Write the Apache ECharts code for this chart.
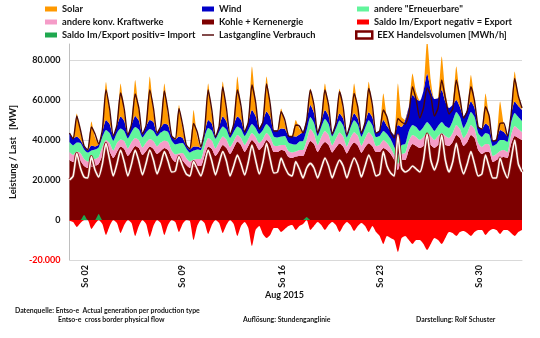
<!DOCTYPE html>
<html>
<head>
<meta charset="utf-8">
<script src="https://cdn.jsdelivr.net/npm/echarts@6/dist/echarts.min.js"></script>
<style>
  html, body { margin: 0; padding: 0; background: #fff; }
  #chart { width: 540px; height: 338px; }
</style>
</head>
<body>
<div id="chart"></div>
<script>
// August 2015, hourly profile sampled at 00, 06, 12 and 18 h of each day (last value: 01.09. 0 h)
const sampleHours = [0, 6, 12, 18];
const dayCount = 31;
const lastHour = 744;

// Kohle + Kernenergie [MW]
const kohle = [
  30000, 29000, 30000, 29500,   27000, 26000, 26500, 27000,   28000, 32000, 35000, 34000,
  31000, 34000, 36700, 35500,   32000, 34500, 37000, 36000,   32500, 34500, 36700, 35500,
  33000, 34500, 36000, 35000,   31000, 29000, 29200, 29500,   27500, 26000, 26700, 27000,
  27000, 32000, 36700, 35500,   32000, 34500, 37500, 36000,   33000, 36000, 39200, 37500,
  34000, 37000, 40000, 38000,   35000, 37000, 40000, 38000,   34000, 34000, 35000, 34500,
  31500, 31000, 31700, 32000,   32000, 36000, 39500, 38000,   34000, 37000, 39000, 37500,
  33800, 36200, 38300, 36800,   33300, 36600, 38700, 37200,   33600, 36400, 38400, 36900,
  34000, 34000, 36000, 35000,   33000, 30000, 25000, 30000,   30000, 35000, 38000, 37000,
  36000, 37000, 38500, 37500,   36000, 37500, 38500, 37500,   37000, 39000, 42500, 41000,
  37000, 39000, 42500, 41000,   35000, 33000, 34000, 34000,   29000, 30000, 31000, 31500,
  31000, 38000, 42000, 41000,
  40000
];
// andere konv. Kraftwerke [MW]
const konv = [
  4000, 3500, 4200, 4000,   3500, 3200, 3800, 3500,   3500, 4500, 5000, 4500,
  3800, 4500, 3500, 4000,   3800, 4500, 4000, 4000,   3800, 4300, 3800, 4000,
  3800, 4200, 3800, 4000,   3800, 3800, 4100, 4000,   3500, 3200, 3500, 3500,
  3500, 4500, 4300, 4200,   3800, 4500, 4200, 4200,   3500, 3500, 3300, 3500,
  3500, 3500, 3500, 3500,   3500, 3500, 3500, 3500,   3300, 3000, 2500, 3000,
  3000, 2800, 2500, 3000,   3000, 4000, 6000, 5000,   3500, 4500, 5500, 5000,
  3500, 4500, 5500, 5000,   3500, 4500, 5200, 5000,   3500, 4500, 5500, 5000,
  3000, 3500, 4000, 3500,   3000, 2500, 3000, 3000,   3500, 4500, 4500, 4500,
  4000, 4500, 5000, 4500,   4000, 4500, 5000, 4500,   4000, 4500, 5000, 4500,
  4000, 4500, 5000, 4500,   3500, 3500, 4000, 3800,   3000, 3000, 3500, 3500,
  3000, 4500, 5000, 4500,
  4000
];
// andere "Erneuerbare" [MW]
const erneuerbar = [
  5000, 4800, 4500, 5000,   4800, 4500, 4500, 4800,   4800, 5000, 5000, 5000,
  4800, 5000, 5500, 5000,   5000, 5000, 5500, 5200,   5000, 5000, 5000, 5000,
  5000, 5000, 5000, 5000,   5000, 5000, 5000, 5000,   4800, 4500, 4500, 4800,
  4500, 5000, 5000, 5000,   4800, 5000, 5000, 5000,   4500, 4500, 4200, 4500,
  4500, 4500, 4500, 4500,   4500, 4500, 4500, 4500,   4500, 4300, 4200, 4500,
  4300, 4200, 3500, 4300,   4500, 5000, 6000, 5500,   4500, 5000, 6000, 5500,
  4500, 5000, 6000, 5500,   4500, 5000, 6000, 5500,   4500, 5000, 6000, 5500,
  4500, 4500, 4500, 4500,   4500, 4000, 4500, 4500,   4500, 5000, 5000, 5000,
  4500, 5000, 5500, 5000,   4500, 5000, 5500, 5000,   5000, 6000, 6500, 6000,
  5000, 6000, 6500, 6000,   5000, 5000, 5500, 5000,   5000, 5000, 5500, 5000,
  5000, 6000, 6500, 6000,
  5500
];
// Wind [MW]
const wind = [
  4500, 3500, 3000, 1500,   1500, 1200, 2500, 1500,   1500, 2500, 5000, 4500,
  2500, 3500, 6000, 5000,   2000, 3500, 5500, 4500,   1500, 3000, 4500, 4500,
  1500, 2500, 3500, 3500,   2000, 2500, 3400, 2500,   1500, 1500, 2000, 1500,
  1000, 2000, 4000, 3500,   1000, 2500, 5000, 4000,   1500, 3500, 5000, 4500,
  2200, 4000, 7000, 6000,   3000, 4500, 6200, 5500,   3000, 3500, 4100, 3500,
  3500, 4000, 4000, 3500,   4500, 5000, 6000, 5000,   2000, 3000, 4500, 4000,
  1500, 2500, 3500, 3500,   1500, 2500, 3500, 3000,   2000, 3000, 4000, 4000,
  2000, 3000, 5500, 4000,   4000, 6000, 15000, 9000,  12000, 12000, 15000, 14000,
  15000, 18000, 24300, 18000,   16000, 14000, 16000, 12000,   10000, 8000, 6000, 5000,
  5700, 5500, 5200, 4500,   3200, 4000, 4800, 4000,   2500, 2500, 5000, 4000,
  3000, 4000, 5700, 5500,
  5500
];
// Solar [MW]
const solar = [
  0, 200, 11500, 4000,   0, 200, 12000, 4500,   0, 300, 19000, 6000,
  0, 300, 16500, 4500,   0, 300, 18000, 5000,   0, 300, 21700, 5500,
  0, 300, 20000, 5000,   0, 200, 15800, 4500,   0, 200, 18300, 5000,
  0, 300, 18300, 5000,   0, 300, 17500, 5000,   0, 300, 20000, 5500,
  0, 300, 21700, 6000,   0, 300, 17500, 5000,   0, 200, 10000, 3000,
  0, 200, 8300, 3000,    0, 300, 8300, 2500,    0, 300, 13300, 4000,
  0, 300, 12300, 4000,   0, 300, 14800, 4500,   0, 300, 15200, 4500,
  0, 200, 13300, 4000,   0, 200, 20800, 5000,   0, 300, 10800, 3500,
  0, 300, 16700, 5000,   0, 300, 16700, 5000,   0, 300, 16700, 5000,
  0, 300, 13300, 4000,   0, 200, 15000, 4500,   0, 200, 14200, 4000,
  0, 300, 15000, 4500,
  0
];
// Saldo Im/Export positiv = Import [MW]
const importSaldo = [
  0, 0, 0, 0,   2500, 0, 0, 0,   3000, 0, 0, 0,
  0, 0, 0, 0,   0, 0, 0, 0,   0, 0, 0, 0,
  0, 0, 0, 0,   0, 0, 0, 0,   0, 0, 0, 0,
  0, 0, 0, 0,   0, 0, 0, 0,   0, 0, 0, 0,
  0, 0, 0, 0,   0, 0, 0, 0,   0, 0, 0, 0,
  0, 0, 0, 0,   0, 1500, 0, 0,   0, 0, 0, 0,
  0, 0, 0, 0,   0, 0, 0, 0,   0, 0, 0, 0,
  0, 0, 0, 0,   0, 0, 0, 0,   0, 0, 0, 0,
  0, 0, 0, 0,   0, 0, 0, 0,   0, 0, 0, 0,
  0, 0, 0, 0,   0, 0, 0, 0,   0, 0, 0, 0,
  0, 0, 0, 0,
  0
];
// Saldo Im/Export negativ = Export [MW]
const exportSaldo = [
  -500, -1000, -3500, -1500,   0, 0, -4500, -2000,   0, -2000, -7500, -3000,
  0, -1500, -6500, -2500,   0, -1500, -8000, -3000,   0, -2000, -8500, -3000,
  0, -1500, -7500, -2500,   0, -1000, -6000, -2000,   0, -500, -10000, -3000,
  0, -1500, -7000, -2500,   0, -1500, -6500, -2500,   0, -2000, -8000, -3000,
  -1000, -4000, -13000, -5000,   -3000, -7000, -9000, -7500,   -4000, -4000, -6000, -4500,
  -3000, -2500, -5000, -3000,   -2000, 0, -5000, -3000,   -1000, -2500, -5000, -2500,
  -1000, -2500, -6000, -3000,   -1000, -2500, -5500, -3000,   -1500, -3000, -6000, -3000,
  -6000, -8000, -12000, -8000,   -9000, -10000, -16000, -9000,   -8000, -10000, -12000, -10000,
  -10000, -12000, -15000, -12000,   -9000, -10000, -12000, -9000,   -6000, -6500, -8000, -6000,
  -5500, -6500, -8000, -6000,   -5000, -5000, -7500, -5500,   -4500, -5000, -7000, -5000,
  -5000, -6500, -8000, -6000,
  -5000
];
// Lastgangline Verbrauch [MW]
const lastgang = [
  43500, 40500, 52000, 45000,   37000, 35000, 46500, 43000,   38000, 45000, 65000, 55500,
  42000, 47500, 63500, 55500,   42500, 48000, 63000, 56000,   43000, 47500, 65000, 56000,
  43500, 47000, 64500, 54500,   42000, 40500, 55800, 47500,   37500, 35500, 48300, 44000,
  36500, 44500, 65000, 55000,   41500, 47000, 66500, 56000,   42500, 48000, 65000, 57000,
  44000, 49000, 67500, 59000,   45500, 49000, 68000, 58000,   44500, 44500, 54200, 50000,
  42000, 41500, 47500, 47000,   43500, 50000, 65000, 57500,   43500, 49500, 65000, 57500,
  43000, 48500, 64200, 56500,   42500, 48500, 63300, 56500,   43500, 49000, 65800, 57500,
  43500, 44500, 55000, 51500,   44000, 41000, 50800, 49000,   48000, 53000, 66700, 60000,
  51000, 56000, 66000, 62000,   52000, 56000, 70000, 61000,   53000, 55500, 70000, 61000,
  51000, 54500, 66700, 59500,   46500, 45500, 56700, 52000,   39500, 40000, 48300, 48500,
  42000, 52500, 70800, 62000,
  56000
];
// EEX Handelsvolumen [MWh/h]
const eex = [
  20000, 22000, 33300, 26000,   21500, 21000, 31700, 25000,   21500, 28000, 38300, 30000,
  22000, 28000, 35000, 29000,   22000, 28000, 35000, 29500,   22500, 28500, 35000, 30000,
  23000, 28000, 34200, 29500,   24000, 24500, 31700, 27000,   23000, 22000, 29200, 25500,
  22000, 28000, 35000, 29500,   22500, 28500, 34200, 29500,   22000, 27000, 32500, 28000,
  22500, 29000, 37500, 30000,   23000, 29000, 38300, 30500,   23500, 24000, 31000, 26500,
  23000, 22000, 29200, 25500,   21000, 26000, 28300, 26000,   21000, 26000, 31000, 27000,
  21000, 26000, 30000, 27000,   21000, 26500, 31000, 27500,   21500, 27000, 32500, 28000,
  22000, 23000, 34200, 27000,   23500, 22000, 42500, 26000,   24000, 25000, 27000, 25500,
  24000, 30000, 43000, 30000,   25000, 30000, 42500, 30000,   24000, 29000, 38300, 29000,
  23000, 28000, 34200, 28000,   22000, 23000, 32500, 26500,   21000, 21000, 31000, 25000,
  21000, 30000, 40000, 28000,
  24000
];

// axis labels (Sundays) and where they sit on the hour scale
const tickLabels = ['So 02', 'So 09', 'So 16', 'So 23', 'So 30'];
const tickHours = [26, 185, 349, 511, 673];

// hour-of-month for every sample (category axis of the series)
const hours = [];
for (let d = 0; d < dayCount; d++) sampleHours.forEach(h => hours.push(String(d * 24 + h)));
hours.push(String(lastHour));

const FONT = 'Lato';
const INK = '#141414';
const txt = { fontFamily: FONT, fontWeight: 'bold', color: INK };

function stackedArea(name, vals, color) {
  return {
    name, type: 'line', stack: 'erzeugung', data: vals,
    symbol: 'none', smooth: 0.2, lineStyle: { width: 0 },
    itemStyle: { color }, areaStyle: { color, opacity: 1 }, z: 2
  };
}
function lineSeries(name, vals, color, width, z, extra) {
  return Object.assign({
    name, type: 'line', data: vals, symbol: 'none', smooth: 0.2,
    lineStyle: { color, width }, itemStyle: { color }, z
  }, extra || {});
}

const fmt = v => (v < 0 ? '-' : '') + String(Math.abs(v)).replace(/\B(?=(\d{3})+(?!\d))/g, '.');

const chart = echarts.init(document.getElementById('chart'), null, { renderer: 'canvas' });
const legendBase = {
  orient: 'vertical', top: 3, padding: 0, itemWidth: 12, itemHeight: 5, itemGap: 1,
  symbolKeepAspect: true,
  textStyle: Object.assign({ fontSize: 9.3, lineHeight: 12 }, txt),
  selectedMode: false
};
const thinLine = 'path://M0,0L40,0L40,5L0,5Z';

chart.setOption({
  animation: false,
  backgroundColor: '#ffffff',
  grid: { left: 59, top: 44, right: 18, bottom: 78, containLabel: false },
  legend: [
    Object.assign({}, legendBase, { left: 45, icon: 'rect',
      data: ['Solar', 'andere konv. Kraftwerke', 'Saldo Im/Export positiv= Import'] }),
    Object.assign({}, legendBase, { left: 202,
      data: [{ name: 'Wind', icon: 'rect' }, { name: 'Kohle + Kernenergie', icon: 'rect' },
             { name: 'Lastgangline Verbrauch', icon: thinLine, itemStyle: { color: '#5a0f0f' } }] }),
    Object.assign({}, legendBase, { left: 357,
      data: [{ name: 'andere "Erneuerbare"', icon: 'rect' },
             { name: 'Saldo Im/Export negativ = Export', icon: 'rect' }] }),
    Object.assign({}, legendBase, { left: 355, top: 29, itemWidth: 16, itemHeight: 7,
      data: [{ name: 'EEX Handelsvolumen [MWh/h]', icon: 'rect',
               itemStyle: { color: '#ffffff', borderColor: '#7a0000', borderWidth: 2.5 } }] })
  ],
  xAxis: [
    {
      type: 'category', data: hours, boundaryGap: false, show: false
    },
    {
      type: 'value', min: 0, max: lastHour, position: 'bottom',
      axisLine: { show: true, onZero: false, lineStyle: { color: '#d9d9d9' } },
      axisTick: { show: false },
      splitLine: { show: false },
      axisLabel: Object.assign({
        customValues: tickHours,
        formatter: v => tickLabels[tickHours.indexOf(v)] || '',
        rotate: 90, margin: 5, fontSize: 9
      }, txt)
    }
  ],
  yAxis: {
    type: 'value', min: -20000, max: 88000, interval: 20000,
    name: 'Leistung / Last   [MW]', nameLocation: 'middle', nameGap: 40, nameRotate: 90,
    nameTextStyle: Object.assign({ fontSize: 9.5 }, txt),
    axisLine: { show: true, lineStyle: { color: '#bfbfbf' } },
    axisTick: { show: false },
    splitLine: { show: true, showMaxLine: false, lineStyle: { color: '#d9d9d9', width: 1 } },
    axisLabel: Object.assign({
      showMaxLabel: false, margin: 9, fontSize: 9,
      formatter: v => (v % 20000 !== 0 ? '' : (v < 0 ? '{neg|' + fmt(v) + '}' : fmt(v))),
      rich: { neg: { color: '#ff0000', fontFamily: FONT, fontWeight: 'bold', fontSize: 9 } }
    }, txt)
  },
  series: [
    stackedArea('Kohle + Kernenergie', kohle, '#7d0000'),
    stackedArea('andere konv. Kraftwerke', konv, '#f59cc8'),
    stackedArea('andere "Erneuerbare"', erneuerbar, '#62f59c'),
    stackedArea('Wind', wind, '#0000c8'),
    stackedArea('Solar', solar, '#ff9900'),
    lineSeries('Saldo Im/Export positiv= Import', importSaldo, '#1fa84f', 0, 3,
      { areaStyle: { color: '#1fa84f', opacity: 1 } }),
    lineSeries('Saldo Im/Export negativ = Export', exportSaldo, '#ff0000', 0, 3,
      { areaStyle: { color: '#ff0000', opacity: 1 } }),
    lineSeries('EEX Kontur', eex, '#8a1a1a', 3.2, 4, { silent: true }),
    lineSeries('EEX Handelsvolumen [MWh/h]', eex, '#fffaf2', 1.6, 5),
    lineSeries('Lastgangline Verbrauch', lastgang, '#4a0808', 1.4, 6)
  ],
  graphic: [
    { type: 'text', left: 265, top: 291, style: { text: 'Aug 2015', font: 'bold 9px Lato', fill: INK } },
    { type: 'text', left: 15, top: 307, style: { text: 'Datenquelle: Entso-e  Actual generation per production type', font: 'bold 6.9px Lato', fill: INK } },
    { type: 'text', left: 58, top: 316, style: { text: 'Entso-e  cross border physical flow', font: 'bold 6.9px Lato', fill: INK } },
    { type: 'text', left: 243, top: 316, style: { text: 'Auflösung: Stundenganglinie', font: 'bold 6.9px Lato', fill: INK } },
    { type: 'text', left: 416, top: 316, style: { text: 'Darstellung: Rolf Schuster', font: 'bold 6.9px Lato', fill: INK } }
  ]
});
</script>
</body>
</html>
